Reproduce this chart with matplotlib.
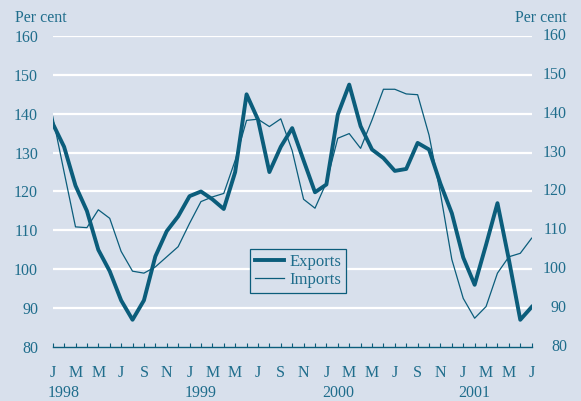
import matplotlib.pyplot as plt
import matplotlib.transforms as mtransforms
import numpy as np

# monthly, Jan 1998 - Jul 2001
exports = [137.5, 131.5, 121.5, 115.0, 105.0, 99.5, 92.0, 87.0, 92.0, 103.3, 109.8, 113.6,
           118.8, 120.0, 118.0, 115.5, 125.0, 145.0, 138.5, 125.0, 131.5, 136.3, 128.0, 119.8,
           121.8, 139.8, 147.5, 136.8, 130.8, 128.6, 125.3, 125.8, 132.5, 130.8, 122.0, 114.4,
           103.0, 96.0, 106.3, 117.0, 102.5, 87.0, 90.3]
imports = [139.3, 125.0, 110.9, 110.7, 115.3, 113.1, 104.6, 99.5, 99.0, 100.6, 103.2, 105.8,
           111.8, 117.4, 118.6, 119.5, 128.0, 138.3, 138.6, 136.7, 138.7, 130.5, 118.0, 115.7,
           122.3, 133.7, 134.9, 131.1, 138.4, 146.3, 146.3, 145.1, 144.9, 134.5, 119.5, 102.5,
           92.5, 87.4, 90.4, 99.0, 103.2, 104.1, 108.0]
month_letters = ["J", "F", "M", "A", "M", "J", "J", "A", "S", "O", "N", "D"]
years = ["1998", "1999", "2000", "2001"]
yticks = list(range(80, 161, 10))

bg = "#d8e0ec"
teal = "#0b5d7b"
txt = "#1f6d8c"

plt.rcParams["font.family"] = ["Liberation Serif", "DejaVu Serif"]

fig = plt.figure(figsize=(5.81, 4.01), dpi=100, facecolor=bg)
ax = fig.add_axes([0.0907, 0.1347, 0.8244, 0.7755], facecolor=bg)

x = np.arange(len(exports))
ax.set_xlim(0, len(exports) - 1)
ax.set_ylim(80, 160)

for v in yticks[1:]:
    ax.axhline(v, color="white", lw=1.6, zorder=1)

ax.plot(x, exports, color=teal, lw=2.8, label="Exports", zorder=3)
ax.plot(x, imports, color=teal, lw=0.9, label="Imports", zorder=2)

for s in ["top", "left", "right"]:
    ax.spines[s].set_visible(False)
ax.spines["bottom"].set_color(teal)
ax.spines["bottom"].set_linewidth(1.0)

# x ticks: every month, letters every 2nd month
ax.set_xticks(x)
ax.set_xticklabels([month_letters[i % 12] if i % 2 == 0 else "" for i in x])
ax.tick_params(axis="x", direction="in", length=3, width=0.8, color=teal,
               labelcolor=txt, labelsize=11.5, pad=13)

# y labels: left via ticks, right drawn right-aligned
ax.set_yticks(yticks)
ax.tick_params(axis="y", length=0, labelcolor=txt, labelsize=11.5, pad=10.5)
right_tr = ax.get_yaxis_transform() + mtransforms.ScaledTranslation(
    25.4 / 72, 0, fig.dpi_scale_trans)
for v in yticks:
    ax.text(1.0, v, str(v), transform=right_tr, ha="right", va="center",
            color=txt, fontsize=11.5)

for i, yr in enumerate(years):
    ax.text(12 * i - 0.4, -0.149, yr, transform=ax.get_xaxis_transform(),
            ha="left", va="center", color=txt, fontsize=11.5)

fig.text(0.026, 0.955, "Per cent", color=txt, fontsize=11.5, ha="left", va="center")
fig.text(0.976, 0.955, "Per cent", color=txt, fontsize=11.5, ha="right", va="center")

leg = ax.legend(loc="upper left", bbox_to_anchor=(0.4125, 0.315), frameon=True,
                fancybox=False, edgecolor=teal, facecolor=bg, framealpha=1,
                fontsize=12, handlelength=1.75, borderpad=0.3, labelspacing=0.1,
                handletextpad=0.3, borderaxespad=0)
leg.get_frame().set_linewidth(0.9)
for t in leg.get_texts():
    t.set_color(txt)

fig.savefig("out.png", dpi=100, facecolor=bg)
